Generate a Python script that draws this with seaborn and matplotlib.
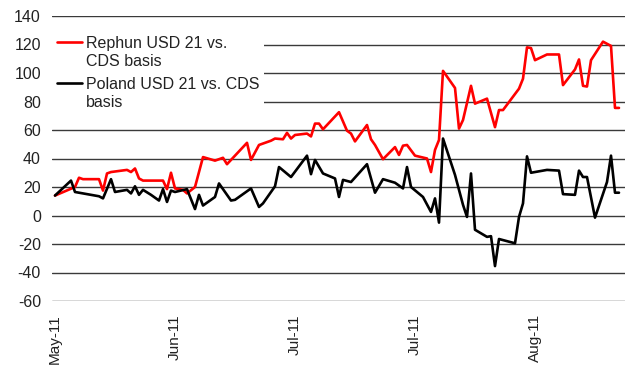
import numpy as np
import pandas as pd
import matplotlib
matplotlib.use("Agg")
import matplotlib.pyplot as plt
import seaborn as sns

# Daily basis series, days counted from the first observation
start_date = "2011-05-02"

red_label = "Rephun USD 21 vs.\nCDS basis"
red_day = [0, 5, 6, 7, 11, 12, 13, 14, 18, 19, 20, 21, 22, 24, 27, 28, 29, 30, 32, 33,
           35, 37, 40, 42, 43, 48, 49, 51, 54, 55, 57, 58, 59, 60, 63, 64, 65, 66, 67, 71,
           72, 73, 74, 75, 78, 79, 80, 82, 85, 86, 87, 88, 90, 93, 94, 95, 96, 97, 100, 101,
           102, 104, 105, 108, 110, 111, 112, 116, 117, 118, 119, 120, 123, 126, 127, 130, 131, 132, 133, 134,
           137, 139, 140, 141]
red_val = [14, 20, 26.5, 25.5, 25.5, 17.5, 29.5, 30.5, 32, 30.5, 33, 26, 24.5, 24.5, 24.5, 18.5, 30, 19, 18, 15.5,
           20, 41, 38.5, 40.5, 36, 51, 39, 49.5, 52.5, 54, 53.5, 58, 54, 56.5, 57.5, 55.5, 64.5, 64.5, 60.5, 72.5,
           66, 59.5, 57.5, 52, 63.5, 53.5, 49.5, 39.5, 48, 42.5, 49, 49.5, 42, 40, 30.5, 46, 53, 101.5, 89.5, 61,
           67, 91, 78.5, 82, 62, 74, 74, 89, 96, 118, 117.5, 109, 113, 113, 91.5, 102.5, 109.5, 91, 90.5, 109,
           122, 119, 75.5, 75.5]

black_label = "Poland USD 21 vs. CDS\nbasis"
black_day = [0, 4, 5, 11, 12, 14, 15, 18, 19, 20, 21, 22, 24, 26, 27, 28, 29, 30, 33, 35,
             36, 37, 40, 41, 44, 45, 49, 51, 52, 55, 56, 59, 63, 64, 65, 67, 70, 71, 72, 74,
             78, 80, 82, 85, 87, 88, 89, 92, 94, 95, 96, 97, 100, 102, 103, 104, 105, 108, 109, 110,
             111, 115, 116, 117, 118, 119, 123, 126, 127, 130, 131, 132, 133, 135, 138, 139, 140, 141]
black_val = [14, 24.5, 16.5, 13.5, 12, 25.5, 16.5, 18, 15.5, 20.5, 14.5, 18, 14.5, 10.5, 18.5, 9.5, 17.5, 16.5, 18.5, 4.5,
             14.5, 7, 13, 22.5, 10.5, 11, 19, 6, 8.5, 20.5, 34, 27, 42, 29, 39, 29.5, 26, 13, 25, 23.5,
             36, 16, 25.5, 23, 19, 34, 20, 13, 2.5, 12, -5, 54, 28.5, 7.5, -1, 29.5, -10, -15, -14.5, -35.5,
             -16.5, -19.5, -1, 8.5, 41.5, 30, 32, 31.5, 15, 14.5, 31.5, 27, 27, -1.5, 23.5, 42, 16, 16]

tick_day = [0, 30, 60, 90, 120]
tick_labels = ["May-11", "Jun-11", "Jul-11", "Jul-11", "Aug-11"]
y_ticks = list(range(-60, 141, 20))

sns.set_theme(style="white")
plt.rcParams["font.family"] = ["Liberation Sans", "DejaVu Sans"]

t0 = pd.Timestamp(start_date)
red = pd.DataFrame({"date": t0 + pd.to_timedelta(red_day, unit="D"), "value": red_val})
black = pd.DataFrame({"date": t0 + pd.to_timedelta(black_day, unit="D"), "value": black_val})

fig = plt.figure(figsize=(6.25, 3.67), dpi=100)
ax = fig.add_axes([52 / 625, 1 - 301 / 367, 573 / 625, 285 / 367])

sns.lineplot(data=red, x="date", y="value", ax=ax, color="#ff0000", lw=1.9,
             label=red_label, sort=False, estimator=None)
sns.lineplot(data=black, x="date", y="value", ax=ax, color="#000000", lw=1.9,
             label=black_label, sort=False, estimator=None)

ax.set_xlim(t0 - pd.Timedelta(days=0.75), t0 + pd.Timedelta(days=142.5))
ax.set_ylim(-60, 140)
ax.set_yticks(y_ticks)
ax.set_yticklabels([str(v) for v in y_ticks], fontsize=11.5, color="#222222")
ax.set_xticks(t0 + pd.to_timedelta(tick_day, unit="D"))
ax.set_xticklabels(tick_labels, rotation=90, fontsize=11, color="#222222", ha="center", va="top")
ax.tick_params(axis="y", length=0, pad=8)
ax.tick_params(axis="x", length=0, pad=9.5)
ax.set_xlabel("")
ax.set_ylabel("")
ax.grid(axis="y", color="#3a3a3a", lw=1.0)
ax.grid(axis="x", visible=False)
ax.set_axisbelow(True)
for s in ax.spines.values():
    s.set_visible(False)

leg = ax.legend(loc="upper left", bbox_to_anchor=(0.0, 0.947), borderaxespad=0,
                borderpad=0.3, handlelength=1.6, handletextpad=0.2, labelspacing=0.5,
                frameon=True, fancybox=False, edgecolor="none", facecolor="white",
                framealpha=1, fontsize=11.5)
for t in leg.get_texts():
    t.set_color("#222222")
    t.set_linespacing(1.25)
# keep each legend line level with the first line of its label
for h in leg.legend_handles:
    h.set_ydata(np.asarray(h.get_ydata()) + 7.6)

fig.savefig("out.png", dpi=100)
